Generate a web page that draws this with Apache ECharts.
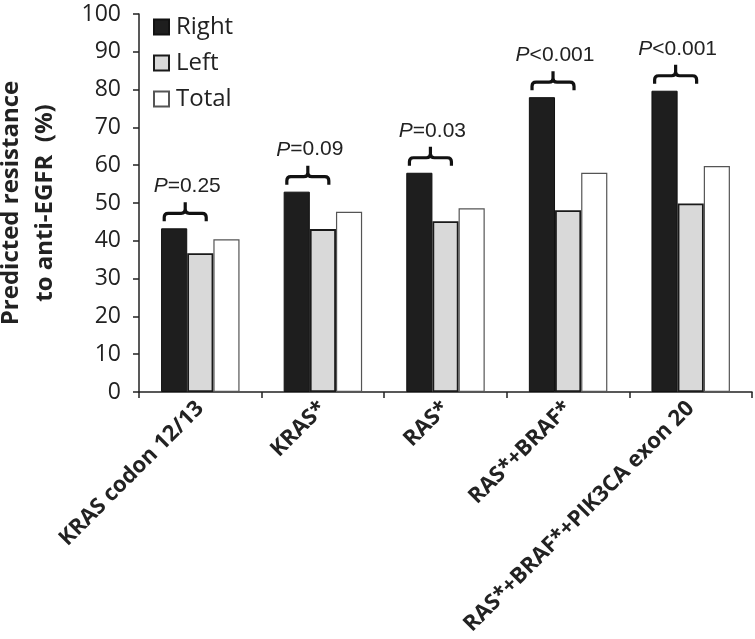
<!DOCTYPE html>
<html>
<head>
<meta charset="utf-8">
<script src="https://cdn.jsdelivr.net/npm/echarts@6/dist/echarts.min.js"></script>
<style>
html,body{margin:0;padding:0;background:#fff;}
#chart{width:755px;height:639px;}
</style>
</head>
<body>
<div id="chart"></div>
<script>
const categories = ['KRAS codon 12/13', 'KRAS*', 'RAS*', 'RAS*+BRAF*', 'RAS*+BRAF*+PIK3CA exon 20'];
const rightValues = [43.3, 53.0, 58.0, 78.0, 79.7];
const leftValues = [36.7, 43.1, 45.2, 48.1, 49.9];
const totalValues = [40.4, 47.7, 48.6, 58.0, 59.8];
const pLabels = ['=0.25', '=0.09', '=0.03', '<0.001', '<0.001'];
const yTicks = { min: 0, max: 100, interval: 10 };

const chart = echarts.init(document.getElementById('chart'), null, { renderer: 'canvas' });
const CAT_GAP = 0.36;
const FONT = 'Open Sans';

const bracketData = categories.map((c, i) => [i, rightValues[i]]);

const option = {
  backgroundColor: '#fff',
  animation: false,
  grid: { left: 139, right: 3, top: 14, bottom: 247, outerBoundsMode: 'none', containLabel: false },
  legend: {
    data: ['Right', 'Left', 'Total'],
    orient: 'vertical',
    left: 148,
    top: 10,
    itemWidth: 15,
    itemHeight: 15,
    itemGap: 12,
    icon: 'rect',
    textStyle: { fontFamily: FONT, fontSize: 24, color: '#222', lineHeight: 24, padding: [0, 0, 0, 2] }
  },
  xAxis: {
    type: 'category',
    data: categories,
    axisLine: { lineStyle: { color: '#222', width: 1.5 } },
    axisTick: { show: true, length: 6, lineStyle: { color: '#222', width: 1.5 } },
    axisLabel: {
      rotate: 45,
      interval: 0,
      margin: 13,
      fontFamily: FONT,
      fontWeight: 'bold',
      fontSize: 22,
      color: '#222'
    }
  },
  yAxis: {
    type: 'value',
    min: yTicks.min,
    max: yTicks.max,
    interval: yTicks.interval,
    name: 'Predicted resistance\nto anti-EGFR  (%)',
    nameLocation: 'middle',
    nameRotate: 90,
    nameGap: 77,
    nameTextStyle: { fontFamily: FONT, fontWeight: 'bold', fontSize: 24, color: '#222', lineHeight: 34 },
    splitLine: { show: false },
    axisLine: { show: true, lineStyle: { color: '#222', width: 1.5 } },
    axisTick: { show: true, length: 6, lineStyle: { color: '#222', width: 1.5 } },
    axisLabel: { fontFamily: FONT, fontSize: 23, color: '#222', margin: 18 }
  },
  series: [
    {
      name: 'Right', type: 'bar', data: rightValues,
      barGap: '0%', barCategoryGap: (CAT_GAP * 100) + '%',
      itemStyle: { color: '#1e1e1e', borderColor: '#111', borderWidth: 1 }
    },
    {
      name: 'Left', type: 'bar', data: leftValues,
      barGap: '0%', barCategoryGap: (CAT_GAP * 100) + '%',
      itemStyle: { color: '#d9d9d9', borderColor: '#1a1a1a', borderWidth: 1.8 }
    },
    {
      name: 'Total', type: 'bar', data: totalValues,
      barGap: '0%', barCategoryGap: (CAT_GAP * 100) + '%',
      itemStyle: { color: '#ffffff', borderColor: '#555', borderWidth: 1.2 }
    },
    {
      name: 'brackets', type: 'custom', data: bracketData, silent: true, z: 5,
      renderItem: function (params, api) {
        const i = api.value(0);
        const v = api.value(1);
        const pt = api.coord([i, v]);
        const cw = api.size([1, 0])[0];
        const bw = cw * (1 - CAT_GAP) / 3;
        const c = pt[0] - bw / 2 - 2;
        const half = 21;
        const yt = pt[1];
        const yEnd = yt - 7, yH = yt - 15, yTip = yt - 26;
        const x0 = c - half, x1 = c + half;
        const d = 'M' + x0 + ' ' + yEnd + ' L' + x0 + ' ' + (yH + 4) + ' Q' + x0 + ' ' + yH + ' ' + (x0 + 4) + ' ' + yH +
          ' L' + (c - 4) + ' ' + yH + ' Q' + c + ' ' + yH + ' ' + c + ' ' + (yH - 4) + ' L' + c + ' ' + yTip +
          ' M' + c + ' ' + (yH - 4) + ' Q' + c + ' ' + yH + ' ' + (c + 4) + ' ' + yH +
          ' L' + (x1 - 4) + ' ' + yH + ' Q' + x1 + ' ' + yH + ' ' + x1 + ' ' + (yH + 4) + ' L' + x1 + ' ' + yEnd;
        return {
          type: 'group',
          children: [
            { type: 'path', shape: { pathData: d }, style: { fill: null, stroke: '#111', lineWidth: 3.2 } },
            {
              type: 'text',
              style: {
                text: '{i|P}{n|' + pLabels[i] + '}',
                x: c + 2, y: yt - 42,
                align: 'center', verticalAlign: 'middle',
                rich: {
                  i: { fontFamily: 'Liberation Sans', fontStyle: 'italic', fontSize: 21, fill: '#222' },
                  n: { fontFamily: 'Liberation Sans', fontSize: 21, fill: '#222' }
                }
              }
            }
          ]
        };
      }
    }
  ]
};
chart.setOption(option);
</script>
</body>
</html>
